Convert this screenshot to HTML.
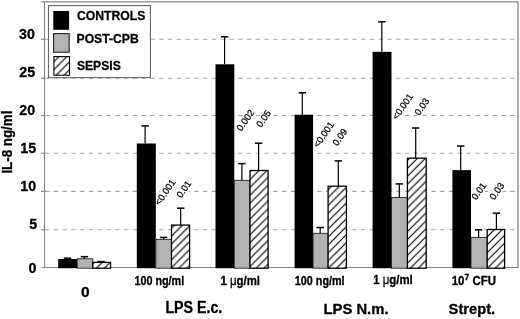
<!DOCTYPE html><html><head><meta charset="utf-8"><style>html,body{margin:0;padding:0;background:#fff;}svg{display:block;}text{font-family:"Liberation Sans",Arial,sans-serif;}text[font-weight="bold"]{stroke:#000;stroke-width:0.3px;}</style></head><body>
<svg width="520" height="319" viewBox="0 0 520 319">
<defs><pattern id="h0" patternUnits="userSpaceOnUse" width="7.9" height="7.9" patternTransform="translate(1.20,0)"><path d="M-1,1 L1,-1 M0,7.9 L7.9,0 M6.9,8.9 L8.9,6.9" stroke="#000" stroke-width="1.15"/></pattern><pattern id="h1" patternUnits="userSpaceOnUse" width="7.9" height="7.9" patternTransform="translate(4.70,0)"><path d="M-1,1 L1,-1 M0,7.9 L7.9,0 M6.9,8.9 L8.9,6.9" stroke="#000" stroke-width="1.15"/></pattern><pattern id="h2" patternUnits="userSpaceOnUse" width="7.9" height="7.9" patternTransform="translate(2.90,0)"><path d="M-1,1 L1,-1 M0,7.9 L7.9,0 M6.9,8.9 L8.9,6.9" stroke="#000" stroke-width="1.15"/></pattern><pattern id="h3" patternUnits="userSpaceOnUse" width="7.9" height="7.9" patternTransform="translate(4.30,0)"><path d="M-1,1 L1,-1 M0,7.9 L7.9,0 M6.9,8.9 L8.9,6.9" stroke="#000" stroke-width="1.15"/></pattern><pattern id="h4" patternUnits="userSpaceOnUse" width="7.9" height="7.9" patternTransform="translate(7.00,0)"><path d="M-1,1 L1,-1 M0,7.9 L7.9,0 M6.9,8.9 L8.9,6.9" stroke="#000" stroke-width="1.15"/></pattern><pattern id="h5" patternUnits="userSpaceOnUse" width="7.9" height="7.9" patternTransform="translate(5.10,0)"><path d="M-1,1 L1,-1 M0,7.9 L7.9,0 M6.9,8.9 L8.9,6.9" stroke="#000" stroke-width="1.15"/></pattern><pattern id="h6" patternUnits="userSpaceOnUse" width="7.9" height="7.9" patternTransform="translate(5.00,0)"><path d="M-1,1 L1,-1 M0,7.9 L7.9,0 M6.9,8.9 L8.9,6.9" stroke="#000" stroke-width="1.15"/></pattern></defs>
<rect width="520" height="319" fill="#fff"/>
<line x1="45" y1="229.7" x2="517.0" y2="229.7" stroke="#a6a6a6" stroke-width="1.1" stroke-dasharray="4.3 4.48"/>
<line x1="45" y1="191.4" x2="517.0" y2="191.4" stroke="#a6a6a6" stroke-width="1.1" stroke-dasharray="4.3 4.48"/>
<line x1="45" y1="153.3" x2="517.0" y2="153.3" stroke="#a6a6a6" stroke-width="1.1" stroke-dasharray="4.3 4.48"/>
<line x1="45" y1="115.5" x2="517.0" y2="115.5" stroke="#a6a6a6" stroke-width="1.1" stroke-dasharray="4.3 4.48"/>
<line x1="45" y1="78.2" x2="517.0" y2="78.2" stroke="#a6a6a6" stroke-width="1.1" stroke-dasharray="4.3 4.48"/>
<line x1="45" y1="39.2" x2="517.0" y2="39.2" stroke="#a6a6a6" stroke-width="1.1" stroke-dasharray="4.3 4.48"/>
<rect x="313.2" y="228.3" width="14.4" height="3" fill="#fff"/>
<rect transform="translate(159.5,206.0) rotate(-55)" x="-0.8" y="-7.99" width="30.61" height="9.87" fill="#fff"/>
<rect transform="translate(181.3,198.5) rotate(-55)" x="-0.8" y="-7.99" width="19.90" height="9.87" fill="#fff"/>
<rect transform="translate(241.3,131.7) rotate(-55)" x="-0.8" y="-7.99" width="25.12" height="9.87" fill="#fff"/>
<rect transform="translate(261.1,128.0) rotate(-55)" x="-0.8" y="-7.99" width="19.90" height="9.87" fill="#fff"/>
<rect transform="translate(318.0,148.3) rotate(-55)" x="-0.8" y="-7.99" width="30.61" height="9.87" fill="#fff"/>
<rect transform="translate(337.3,146.5) rotate(-55)" x="-0.8" y="-7.99" width="19.90" height="9.87" fill="#fff"/>
<rect transform="translate(397.0,120.3) rotate(-55)" x="-0.8" y="-7.99" width="30.61" height="9.87" fill="#fff"/>
<rect transform="translate(419.3,116.0) rotate(-55)" x="-0.8" y="-7.99" width="19.90" height="9.87" fill="#fff"/>
<rect transform="translate(476.3,200.5) rotate(-55)" x="-0.8" y="-7.99" width="19.90" height="9.87" fill="#fff"/>
<rect transform="translate(494.3,200.5) rotate(-55)" x="-0.8" y="-7.99" width="19.90" height="9.87" fill="#fff"/>
<path d="M41,1.9 H518.0 V267.5" fill="none" stroke="#8a8a8a" stroke-width="1.35"/>
<line x1="44.5" y1="1.9" x2="44.5" y2="267.5" stroke="#828282" stroke-width="1.1"/>
<line x1="41.5" y1="267.5" x2="518.6" y2="267.5" stroke="#828282" stroke-width="1.0"/>
<line x1="41" y1="229.7" x2="44.5" y2="229.7" stroke="#8a8a8a" stroke-width="1.2"/>
<line x1="41" y1="191.4" x2="44.5" y2="191.4" stroke="#8a8a8a" stroke-width="1.2"/>
<line x1="41" y1="153.3" x2="44.5" y2="153.3" stroke="#8a8a8a" stroke-width="1.2"/>
<line x1="41" y1="115.5" x2="44.5" y2="115.5" stroke="#8a8a8a" stroke-width="1.2"/>
<line x1="41" y1="78.2" x2="44.5" y2="78.2" stroke="#8a8a8a" stroke-width="1.2"/>
<line x1="41" y1="39.2" x2="44.5" y2="39.2" stroke="#8a8a8a" stroke-width="1.2"/>
<text x="19.05" y="39.0" font-size="14.2" font-weight="bold">30</text>
<text x="19.25" y="77.1" font-size="14.2" font-weight="bold">25</text>
<text x="19.25" y="115.1" font-size="14.2" font-weight="bold">20</text>
<text x="20.25" y="153.1" font-size="14.2" font-weight="bold">15</text>
<text x="20.25" y="191.2" font-size="14.2" font-weight="bold">10</text>
<text x="29.25" y="229.4" font-size="14.2" font-weight="bold">5</text>
<text x="28.55" y="272.6" font-size="14.2" font-weight="bold">0</text>
<text transform="translate(12.2,173.6) rotate(-90)" font-size="14.3" font-weight="bold" textLength="63" lengthAdjust="spacingAndGlyphs">IL-8 ng/ml</text>
<rect x="58.2" y="259.0" width="19.00" height="9.20" fill="#000"/>
<rect x="77.2" y="258.8" width="15.60" height="9.40" fill="#b2b2b2" stroke="#222" stroke-width="0.9"/>
<rect x="92.8" y="262.4" width="17.80" height="5.80" fill="#fff"/>
<rect x="92.8" y="262.4" width="17.80" height="5.80" fill="url(#h0)" stroke="#000" stroke-width="1.3"/>
<rect x="136.8" y="143.5" width="19.00" height="124.70" fill="#000"/>
<rect x="155.8" y="239.3" width="15.70" height="28.90" fill="#b2b2b2" stroke="#222" stroke-width="0.9"/>
<rect x="171.5" y="225.1" width="18.10" height="43.10" fill="#fff"/>
<rect x="171.5" y="225.1" width="18.10" height="43.10" fill="url(#h1)" stroke="#000" stroke-width="1.3"/>
<rect x="215.5" y="64.3" width="18.80" height="203.90" fill="#000"/>
<rect x="234.3" y="180.3" width="15.70" height="87.90" fill="#b2b2b2" stroke="#222" stroke-width="0.9"/>
<rect x="250.0" y="170.5" width="18.10" height="97.70" fill="#fff"/>
<rect x="250.0" y="170.5" width="18.10" height="97.70" fill="url(#h2)" stroke="#000" stroke-width="1.3"/>
<rect x="294.6" y="114.7" width="18.50" height="153.50" fill="#000"/>
<rect x="313.1" y="233.3" width="15.00" height="34.90" fill="#b2b2b2" stroke="#222" stroke-width="0.9"/>
<rect x="328.1" y="186.2" width="18.30" height="82.00" fill="#fff"/>
<rect x="328.1" y="186.2" width="18.30" height="82.00" fill="url(#h3)" stroke="#000" stroke-width="1.3"/>
<rect x="372.6" y="51.8" width="18.90" height="216.40" fill="#000"/>
<rect x="391.5" y="197.5" width="15.90" height="70.70" fill="#b2b2b2" stroke="#222" stroke-width="0.9"/>
<rect x="407.4" y="158.2" width="18.80" height="110.00" fill="#fff"/>
<rect x="407.4" y="158.2" width="18.80" height="110.00" fill="url(#h4)" stroke="#000" stroke-width="1.3"/>
<rect x="452.4" y="170.1" width="18.60" height="98.10" fill="#000"/>
<rect x="471.0" y="237.4" width="16.20" height="30.80" fill="#b2b2b2" stroke="#222" stroke-width="0.9"/>
<rect x="487.2" y="229.5" width="17.40" height="38.70" fill="#fff"/>
<rect x="487.2" y="229.5" width="17.40" height="38.70" fill="url(#h5)" stroke="#000" stroke-width="1.3"/>
<line x1="67.5" y1="258.2" x2="67.5" y2="259.0" stroke="#000" stroke-width="1.2"/>
<line x1="63.8" y1="258.2" x2="71.2" y2="258.2" stroke="#111" stroke-width="1.6"/>
<line x1="84.4" y1="256.7" x2="84.4" y2="258.8" stroke="#000" stroke-width="1.2"/>
<line x1="80.7" y1="256.7" x2="88.10000000000001" y2="256.7" stroke="#111" stroke-width="1.6"/>
<line x1="101.0" y1="261.6" x2="101.0" y2="262.4" stroke="#000" stroke-width="1.2"/>
<line x1="97.3" y1="261.6" x2="104.7" y2="261.6" stroke="#111" stroke-width="1.6"/>
<line x1="145.1" y1="125.9" x2="145.1" y2="143.5" stroke="#000" stroke-width="1.2"/>
<line x1="141.4" y1="125.9" x2="148.79999999999998" y2="125.9" stroke="#111" stroke-width="1.6"/>
<line x1="163.6" y1="237.4" x2="163.6" y2="239.3" stroke="#000" stroke-width="1.2"/>
<line x1="159.9" y1="237.4" x2="167.29999999999998" y2="237.4" stroke="#111" stroke-width="1.6"/>
<line x1="180.7" y1="208.2" x2="180.7" y2="225.1" stroke="#000" stroke-width="1.2"/>
<line x1="177.0" y1="208.2" x2="184.39999999999998" y2="208.2" stroke="#111" stroke-width="1.6"/>
<line x1="224.6" y1="36.8" x2="224.6" y2="64.3" stroke="#000" stroke-width="1.2"/>
<line x1="220.9" y1="36.8" x2="228.29999999999998" y2="36.8" stroke="#111" stroke-width="1.6"/>
<line x1="241.9" y1="163.6" x2="241.9" y2="180.3" stroke="#000" stroke-width="1.2"/>
<line x1="238.20000000000002" y1="163.6" x2="245.6" y2="163.6" stroke="#111" stroke-width="1.6"/>
<line x1="258.6" y1="143.2" x2="258.6" y2="170.5" stroke="#000" stroke-width="1.2"/>
<line x1="254.90000000000003" y1="143.2" x2="262.3" y2="143.2" stroke="#111" stroke-width="1.6"/>
<line x1="302.3" y1="92.8" x2="302.3" y2="114.7" stroke="#000" stroke-width="1.2"/>
<line x1="298.6" y1="92.8" x2="306.0" y2="92.8" stroke="#111" stroke-width="1.6"/>
<line x1="320.2" y1="227.5" x2="320.2" y2="233.3" stroke="#000" stroke-width="1.2"/>
<line x1="316.5" y1="227.5" x2="323.9" y2="227.5" stroke="#111" stroke-width="1.6"/>
<line x1="338.3" y1="160.9" x2="338.3" y2="186.2" stroke="#000" stroke-width="1.2"/>
<line x1="334.6" y1="160.9" x2="342.0" y2="160.9" stroke="#111" stroke-width="1.6"/>
<line x1="381.8" y1="21.8" x2="381.8" y2="51.8" stroke="#000" stroke-width="1.2"/>
<line x1="378.1" y1="21.8" x2="385.5" y2="21.8" stroke="#111" stroke-width="1.6"/>
<line x1="399.3" y1="183.9" x2="399.3" y2="197.5" stroke="#000" stroke-width="1.2"/>
<line x1="395.6" y1="183.9" x2="403.0" y2="183.9" stroke="#111" stroke-width="1.6"/>
<line x1="415.7" y1="128.0" x2="415.7" y2="158.2" stroke="#000" stroke-width="1.2"/>
<line x1="412.0" y1="128.0" x2="419.4" y2="128.0" stroke="#111" stroke-width="1.6"/>
<line x1="460.7" y1="146.0" x2="460.7" y2="170.1" stroke="#000" stroke-width="1.2"/>
<line x1="457.0" y1="146.0" x2="464.4" y2="146.0" stroke="#111" stroke-width="1.6"/>
<line x1="478.6" y1="229.8" x2="478.6" y2="237.4" stroke="#000" stroke-width="1.2"/>
<line x1="474.90000000000003" y1="229.8" x2="482.3" y2="229.8" stroke="#111" stroke-width="1.6"/>
<line x1="496.4" y1="213.2" x2="496.4" y2="229.5" stroke="#000" stroke-width="1.2"/>
<line x1="492.7" y1="213.2" x2="500.09999999999997" y2="213.2" stroke="#111" stroke-width="1.6"/>
<text transform="translate(159.5,206.0) rotate(-55)" font-size="9.4" stroke="#000" stroke-width="0.25">&lt;0.001</text>
<text transform="translate(181.3,198.5) rotate(-55)" font-size="9.4" stroke="#000" stroke-width="0.25">0.01</text>
<text transform="translate(241.3,131.7) rotate(-55)" font-size="9.4" stroke="#000" stroke-width="0.25">0.002</text>
<text transform="translate(261.1,128.0) rotate(-55)" font-size="9.4" stroke="#000" stroke-width="0.25">0.05</text>
<text transform="translate(318.0,148.3) rotate(-55)" font-size="9.4" stroke="#000" stroke-width="0.25">&lt;0.001</text>
<text transform="translate(337.3,146.5) rotate(-55)" font-size="9.4" stroke="#000" stroke-width="0.25">0.09</text>
<text transform="translate(397.0,120.3) rotate(-55)" font-size="9.4" stroke="#000" stroke-width="0.25">&lt;0.001</text>
<text transform="translate(419.3,116.0) rotate(-55)" font-size="9.4" stroke="#000" stroke-width="0.25">0.03</text>
<text transform="translate(476.3,200.5) rotate(-55)" font-size="9.4" stroke="#000" stroke-width="0.25">0.01</text>
<text transform="translate(494.3,200.5) rotate(-55)" font-size="9.4" stroke="#000" stroke-width="0.25">0.03</text>
<rect x="48.5" y="5.6" width="101.9" height="72" fill="#fff" stroke="#666" stroke-width="1.1"/>
<rect x="53.3" y="11" width="15.8" height="18.8" fill="#000"/>
<rect x="53.6" y="33.6" width="15.6" height="18.6" fill="#b2b2b2" stroke="#222" stroke-width="1.1"/>
<rect x="53.9" y="56.6" width="15.6" height="18.6" fill="url(#h6)" stroke="#000" stroke-width="1.1"/>
<text x="76.9" y="20.1" font-size="13.3" font-weight="bold" textLength="68.5" lengthAdjust="spacingAndGlyphs">CONTROLS</text>
<text x="76.5" y="42.8" font-size="13.3" font-weight="bold" textLength="62.3" lengthAdjust="spacingAndGlyphs">POST-CPB</text>
<text x="76.9" y="70.0" font-size="13.3" font-weight="bold" textLength="43.9" lengthAdjust="spacingAndGlyphs">SEPSIS</text>
<text x="80.9" y="296.8" font-size="15.5" font-weight="bold">0</text>
<text x="134.4" y="284.9" font-size="12" font-weight="bold" textLength="49.8" lengthAdjust="spacingAndGlyphs">100 ng/ml</text>
<text x="294.8" y="285.0" font-size="12" font-weight="bold" textLength="49.8" lengthAdjust="spacingAndGlyphs">100 ng/ml</text>
<text x="220.5" y="285.2" font-size="12" font-weight="bold" textLength="39.4" lengthAdjust="spacingAndGlyphs">1 <tspan font-weight="normal">μ</tspan>g/ml</text>
<text x="373.2" y="284.3" font-size="12" font-weight="bold" textLength="39.6" lengthAdjust="spacingAndGlyphs">1 <tspan font-weight="normal">μ</tspan>g/ml</text>
<text x="451.7" y="285.2" font-size="12" font-weight="bold" textLength="44.3" lengthAdjust="spacingAndGlyphs">10<tspan font-size="9" dy="-5">7</tspan><tspan dy="5"> CFU</tspan></text>
<text x="165.4" y="313.1" font-size="15.6" font-weight="bold" textLength="56.9" lengthAdjust="spacingAndGlyphs">LPS E.c.</text>
<text x="323.5" y="313.8" font-size="15.4" font-weight="bold" textLength="65" lengthAdjust="spacingAndGlyphs">LPS N.m.</text>
<text x="448.6" y="314.4" font-size="15.4" font-weight="bold" textLength="46.6" lengthAdjust="spacingAndGlyphs">Strept.</text>
</svg></body></html>
